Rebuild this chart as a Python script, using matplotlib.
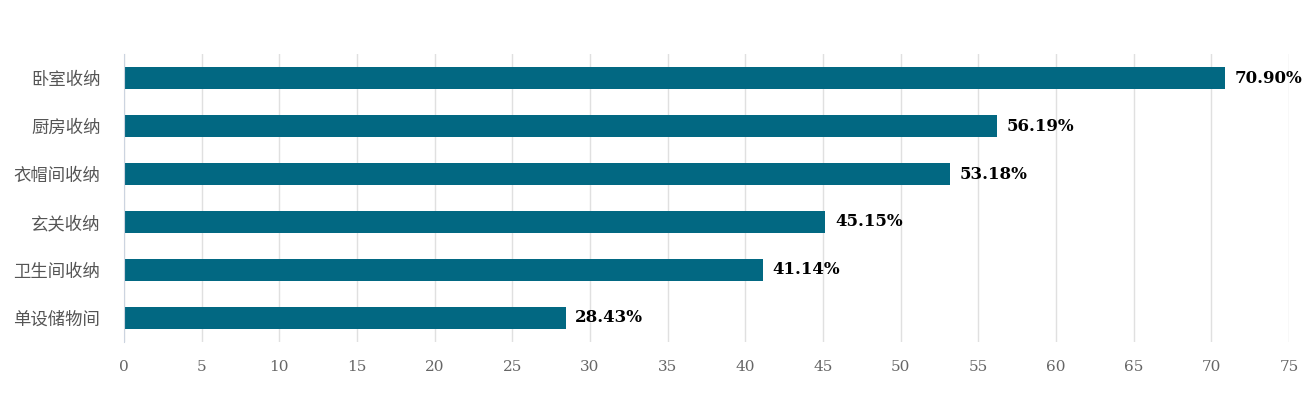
import matplotlib.pyplot as plt

# data
categories = ['卧室收纳', '厨房收纳', '衣帽间收纳', '玄关收纳', '卫生间收纳', '单设储物间']
values = [70.90, 56.19, 53.18, 45.15, 41.14, 28.43]
xticks = list(range(0, 80, 5))

plt.rcParams['font.family'] = ['DejaVu Serif', 'Noto Sans CJK SC']

fig = plt.figure(figsize=(13.04, 3.96), dpi=100)
ax = fig.add_axes([0.0951, 0.1364, 0.8934, 0.7272])

ypos = list(range(len(categories)))
ax.barh(ypos, values, height=0.46, color='#026882', zorder=3)

for y, v in zip(ypos, values):
    ax.annotate('%.2f%%' % v, (v, y), xytext=(7, 0), textcoords='offset points',
                va='center', ha='left', fontsize=12, fontweight='bold',
                color='black', family=['DejaVu Serif'])

ax.set_ylim(len(categories) - 0.5, -0.5)
ax.set_xlim(0, 75)
ax.set_yticks(ypos)
ax.set_yticklabels(categories, family=['Noto Sans CJK SC'], fontsize=12.5, color='#555555')
ax.set_xticks(xticks)
ax.tick_params(axis='x', labelsize=11, colors='#666666', length=0, pad=13)
ax.tick_params(axis='y', length=0, pad=17)

ax.grid(axis='x', color='#e0e0e0', linewidth=1, zorder=0)
for s in ['top', 'right', 'bottom']:
    ax.spines[s].set_visible(False)
ax.spines['left'].set_color('#ccd4e0')
ax.spines['left'].set_zorder(4)

fig.savefig('out.png', dpi=100)
